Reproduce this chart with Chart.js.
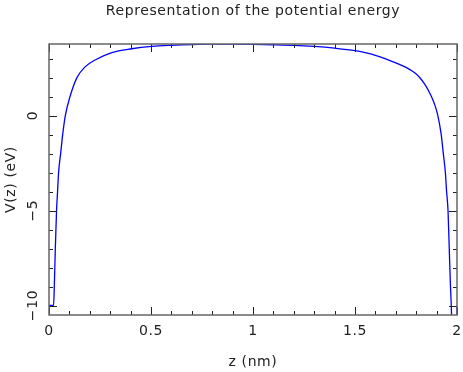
<!DOCTYPE html>
<html>
<head>
<meta charset="utf-8">
<script src="https://cdn.jsdelivr.net/npm/chart.js@4.4.0/dist/chart.umd.min.js"></script>
<style>
  html, body { margin: 0; padding: 0; background: #fff; }
</style>
</head>
<body>
<canvas id="potentialChart" width="463" height="372"></canvas>
<script>
// z positions (nm) and potential (eV)
var zValues = [
    0, 0.0225, 0.026, 0.031, 0.037, 0.042, 0.047, 0.057, 0.067, 0.080,
    0.103, 0.137, 0.178, 0.226, 0.308, 0.406, 0.504, 0.6, 0.7, 0.8,
    0.9, 1.0, 1.1, 1.2, 1.3, 1.4, 1.5, 1.55, 1.6, 1.65,
    1.7, 1.75, 1.78, 1.8, 1.816, 1.84, 1.873, 1.89, 1.905, 1.922,
    1.933, 1.943, 1.949, 1.956, 1.962, 1.968, 1.972, 1.975, 2.0, 2.0
];
var energyValues = [
    -10, -10, -9, -7, -5, -4, -3, -2, -1, 0,
    1, 2, 2.58, 2.93, 3.32, 3.52, 3.64, 3.70, 3.74, 3.76,
    3.76, 3.75, 3.73, 3.70, 3.64, 3.55, 3.42, 3.31, 3.17, 2.99,
    2.78, 2.54, 2.35, 2.19, 2.02, 1.68, 1.05, 0.6, 0.05, -0.95,
    -2, -3, -4, -5, -7, -9, -10, -11, -11, -10
];
var xTickValues = [0, 0.5, 1, 1.5, 2];
var yTickValues = [-10, -5, 0];
var xMinorStep = 0.1;
var yMinorStep = 1;

var points = zValues.map(function(z, i) {
    return { x: z, y: energyValues[i] };
});

var textFont = { family: 'DejaVu Sans', size: 14 };

// wider letter spacing, like the plotting font of the original
var spacing = {
    id: 'spacing',
    beforeDraw: function(chart) {
        chart.ctx.letterSpacing = '0.6px';
    }
};

// inward ticks on all four sides plus the frame
var frameTicks = {
    id: 'frameTicks',
    afterDraw: function(chart) {
        var ctx = chart.ctx;
        var a = chart.chartArea;
        var xs = chart.scales.x;
        var ys = chart.scales.y;
        ctx.save();
        ctx.strokeStyle = '#222';
        ctx.lineWidth = 1;
        ctx.beginPath();
        for (var v = xs.min; v <= xs.max + 1e-9; v += xMinorStep) {
            var px = Math.round(xs.getPixelForValue(v)) + 0.5;
            var major = xTickValues.some(function(t) { return Math.abs(t - v) < 1e-6; });
            var len = major ? 8 : 4;
            ctx.moveTo(px, a.bottom); ctx.lineTo(px, a.bottom - len);
            ctx.moveTo(px, a.top); ctx.lineTo(px, a.top + len);
        }
        for (var w = Math.ceil(ys.min); w <= ys.max; w += yMinorStep) {
            var py = Math.round(ys.getPixelForValue(w)) + 0.5;
            var majorY = yTickValues.indexOf(w) !== -1;
            var lenY = majorY ? 8 : 4;
            ctx.moveTo(a.left, py); ctx.lineTo(a.left + lenY, py);
            ctx.moveTo(a.right, py); ctx.lineTo(a.right - lenY, py);
        }
        ctx.stroke();
        ctx.strokeStyle = '#666';
        ctx.lineWidth = 1.5;
        ctx.strokeRect(a.left, a.top, a.right - a.left, a.bottom - a.top);
        ctx.restore();
    }
};

var ctx = document.getElementById('potentialChart').getContext('2d');
var potentialChart = new Chart(ctx, {
    type: 'line',
    data: {
        datasets: [
            {
                data: points,
                borderColor: '#0000ff',
                borderWidth: 1.3,
                pointRadius: 0,
                fill: false,
                cubicInterpolationMode: 'monotone'
            }
        ]
    },
    options: {
        responsive: false,
        animation: false,
        layout: {
            padding: { left: 0, right: 0, top: 0, bottom: 0 }
        },
        plugins: {
            legend: { display: false },
            tooltip: { enabled: false },
            title: {
                display: true,
                fullSize: false,
                text: 'Representation of the potential energy',
                color: '#222',
                font: { family: 'DejaVu Sans', size: 14, weight: 'normal', lineHeight: 1.2 },
                padding: { top: 3, bottom: 24.2 }
            }
        },
        scales: {
            x: {
                type: 'linear',
                min: 0,
                max: 2,
                grid: { display: false, drawTicks: false },
                border: { display: false },
                afterBuildTicks: function(scale) {
                    scale.ticks = xTickValues.map(function(v) { return { value: v }; });
                },
                afterFit: function(scale) {
                    scale.height = 57;
                    scale.paddingRight = 6;
                },
                ticks: {
                    color: '#222',
                    font: textFont,
                    padding: 8,
                    maxRotation: 0,
                    callback: function(v) { return String(v); }
                },
                title: {
                    display: true,
                    text: 'z (nm)',
                    color: '#222',
                    font: textFont,
                    padding: { top: 0, bottom: 1 }
                }
            },
            y: {
                type: 'linear',
                min: -10.5,
                max: 3.77,
                grid: { display: false, drawTicks: false },
                border: { display: false },
                afterBuildTicks: function(scale) {
                    scale.ticks = yTickValues.map(function(v) { return { value: v }; });
                },
                afterFit: function(scale) { scale.width = 49; },
                ticks: {
                    color: '#222',
                    font: textFont,
                    padding: 1,
                    minRotation: 90,
                    maxRotation: 90,
                    crossAlign: 'center',
                    callback: function(v) { return String(v).replace('-', '\u2212'); }
                },
                title: {
                    display: true,
                    text: 'V(z) (eV)',
                    color: '#222',
                    font: textFont,
                    padding: { top: 3, bottom: 0 }
                }
            }
        }
    },
    plugins: [spacing, frameTicks]
});
</script>
</body>
</html>
